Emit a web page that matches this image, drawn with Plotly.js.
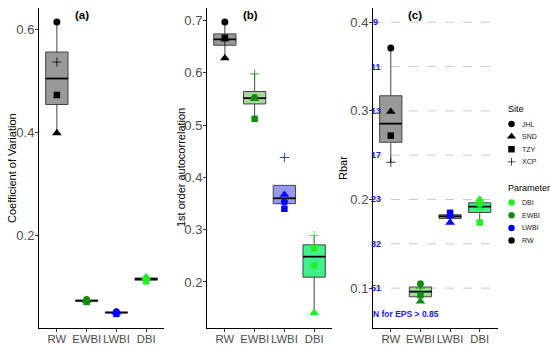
<!DOCTYPE html>
<html>
<head>
<meta charset="utf-8">
<script src="https://cdn.plot.ly/plotly-3.0.1.min.js"></script>
<style>html,body{margin:0;padding:0;background:#fff;}#chart{width:550px;height:346px;}</style>
</head>
<body>
<div id="chart"></div>
<script>
// ---------- data ----------
const categories = ["RW", "EWBI", "LWBI", "DBI"];
const sites = ["JHL", "SND", "TZY", "XCP"];
const siteSymbols = ["circle", "triangle-up", "square", "cross-thin-open"];
const paramColors = ["#000000", "#148c14", "#0000ff", "#22ee22"];
const boxFills = ["#999999", "#a8d898", "#9898f0", "#40f08a"];
const legendParams = ["DBI", "EWBI", "LWBI", "RW"];
const legendParamColors = ["#22ee22", "#148c14", "#0000ff", "#000000"];

// (a) Coefficient of Variation, per site, in category order
const cvJHL = [0.614, 0.075, 0.051, 0.116];
const cvSND = [0.398, 0.072, 0.050, 0.118];
const cvTZY = [0.472, 0.070, 0.047, 0.110];
const cvXCP = [0.536, 0.073, 0.049, 0.113];
// (b) 1st order autocorrelation
const acJHL = [0.697, 0.553, 0.353, 0.232];
const acSND = [0.628, 0.550, 0.367, 0.141];
const acTZY = [0.667, 0.512, 0.340, 0.265];
const acXCP = [0.661, 0.598, 0.438, 0.289];
// (c) Rbar
const rbJHL = [0.371, 0.105, 0.182, 0.195];
const rbSND = [0.299, 0.085, 0.174, 0.200];
const rbTZY = [0.272, 0.092, 0.185, 0.174];
const rbXCP = [0.242, 0.100, 0.180, 0.189];
// EPS reference lines in (c)
const epsN = ["9", "11", "13", "17", "23", "32", "51"];
const epsRbar = [0.40, 0.35, 0.30, 0.25, 0.20, 0.15, 0.10];

const panels = [
  {series: [cvJHL, cvSND, cvTZY, cvXCP], xa: "x", ya: "y"},
  {series: [acJHL, acSND, acTZY, acXCP], xa: "x2", ya: "y2"},
  {series: [rbJHL, rbSND, rbTZY, rbXCP], xa: "x3", ya: "y3"}
];

// ---------- helpers ----------
function q7(sorted, p) {
  const h = (sorted.length - 1) * p, lo = Math.floor(h), hi = Math.ceil(h);
  return sorted[lo] + (h - lo) * (sorted[hi] - sorted[lo]);
}
function boxStats(vals) {
  const s = vals.slice().sort((a, b) => a - b);
  const q1 = q7(s, 0.25), med = q7(s, 0.5), q3 = q7(s, 0.75), iqr = q3 - q1;
  const inside = s.filter(v => v >= q1 - 1.5 * iqr && v <= q3 + 1.5 * iqr);
  return {q1, med, q3, lo: Math.min(inside[0], q1), hi: Math.max(inside[inside.length - 1], q3)};
}

const FONT = "Liberation Sans, Arial, sans-serif";
const BW = 0.75;
const traces = [];

panels.forEach(p => {
  categories.forEach((c, j) => {
    const vals = p.series.map(s => s[j]);
    const st = boxStats(vals);
    traces.push({
      type: "box", xaxis: p.xa, yaxis: p.ya, x: [j + 1],
      q1: [st.q1], median: [st.med], q3: [st.q3], lowerfence: [st.lo], upperfence: [st.hi],
      width: BW, fillcolor: boxFills[j], line: {color: "#444444", width: 1},
      whiskerwidth: 0, boxpoints: false, showlegend: false, hoverinfo: "skip"
    });
    traces.push({
      type: "scatter", mode: "lines", xaxis: p.xa, yaxis: p.ya,
      x: [j + 1 - BW / 2, j + 1 + BW / 2], y: [st.med, st.med],
      line: {color: "#000000", width: 1.7}, showlegend: false, hoverinfo: "skip"
    });
  });
  p.series.forEach((s, k) => {
    const isCross = siteSymbols[k].indexOf("cross") === 0;
    traces.push({
      type: "scatter", mode: "markers", xaxis: p.xa, yaxis: p.ya,
      x: categories.map((c, j) => j + 1), y: s, name: sites[k],
      marker: {
        symbol: siteSymbols[k], color: paramColors,
        size: isCross ? 6.6 : (k === 1 ? 8.5 : (k === 2 ? 6.5 : 7)),
        line: isCross ? {color: paramColors, width: 0.8} : {width: 0}
      },
      showlegend: false, hoverinfo: "skip", cliponaxis: false
    });
  });
});

// custom legend (pixel coordinates on an overlay axis)
const legSiteY = sites.map((s, i) => 124 + i * 12.6);
const legParamY = legendParams.map((s, i) => 202.5 + i * 12.7);
sites.forEach((s, k) => {
  const isCross = siteSymbols[k].indexOf("cross") === 0;
  traces.push({
    type: "scatter", mode: "markers", xaxis: "x4", yaxis: "y4",
    x: [511.5], y: [legSiteY[k]],
    marker: {symbol: siteSymbols[k], color: "#000000", size: isCross ? 5.5 : (k === 1 ? 8 : 6.5),
             line: isCross ? {color: "#000000", width: 0.7} : {width: 0}},
    showlegend: false, hoverinfo: "skip", cliponaxis: false
  });
});
traces.push({
  type: "scatter", mode: "markers", xaxis: "x4", yaxis: "y4",
  x: legendParams.map(() => 511.5), y: legParamY,
  marker: {symbol: "circle", color: legendParamColors, size: 6.5},
  showlegend: false, hoverinfo: "skip", cliponaxis: false
});

const annotations = [];
function pxAnn(text, x, y, opts) {
  annotations.push(Object.assign({xref: "x4", yref: "y4", x: x, y: y, text: text, showarrow: false,
    font: {family: FONT, size: 11, color: "#000000"}}, opts || {}));
}
pxAnn("Coefficient of Variation", 12, 168, {textangle: -90});
pxAnn("1st order autocorrelation", 181, 168, {textangle: -90});
pxAnn("Rbar", 343, 168, {textangle: -90});
pxAnn("(a)", 81.7, 15, {font: {family: FONT, size: 11.5, color: "#000", weight: "bold"}});
pxAnn("(b)", 250.5, 15, {font: {family: FONT, size: 11.5, color: "#000", weight: "bold"}});
pxAnn("(c)", 415.3, 15, {font: {family: FONT, size: 11.5, color: "#000", weight: "bold"}});
pxAnn("Site", 505.5, 109, {xanchor: "left", font: {family: FONT, size: 9, color: "#000"}});
pxAnn("Parameter", 505.5, 188, {xanchor: "left", font: {family: FONT, size: 9, color: "#000"}});
sites.forEach((s, i) => pxAnn(s, 520, legSiteY[i], {xanchor: "left", font: {family: FONT, size: 7, color: "#222"}}));
legendParams.forEach((s, i) => pxAnn(s, 520, legParamY[i], {xanchor: "left", font: {family: FONT, size: 7, color: "#222"}}));

// EPS labels
epsN.forEach((n, i) => annotations.push({xref: "x3", yref: "y3", x: 0.5, y: epsRbar[i], text: "<b>" + n + "</b>", showarrow: false,
  font: {family: FONT, size: 9, color: "#1a1ad8"}}));
annotations.push({xref: "x3", yref: "y3", x: 1.5, y: 0.0705, text: "<b>N for EPS > 0.85</b>", showarrow: false,
  font: {family: FONT, size: 8.5, color: "#1a1ad8"}});

const shapes = epsRbar.map(v => ({type: "line", xref: "x3 domain", yref: "y3", x0: 0, x1: 1, y0: v, y1: v,
  line: {color: "#c4c4c4", width: 0.9, dash: "dash"}, layer: "below"}));

const W = 550, H = 346;
const yDom = [1 - 328 / H, 1 - 8 / H];
function xAxis(d0, d1, anchor) {
  return {domain: [d0 / W, d1 / W], anchor: anchor, range: [0.4, 4.6], tickvals: [1, 2, 3, 4], ticktext: categories,
    tickangle: 0, ticklabelstandoff: -3,
    showline: true, linecolor: "#000", linewidth: 1, ticks: "outside", ticklen: 3, tickcolor: "#333", tickwidth: 1,
    showgrid: false, zeroline: false, fixedrange: true, tickfont: {family: FONT, size: 11.3, color: "#4d4d4d"}};
}
function yAxis(range, tv, anchor) {
  return {domain: yDom, anchor: anchor, range: range, tickvals: tv, tickformat: ".1f", ticklabelstandoff: -2,
    showline: true, linecolor: "#000", linewidth: 1, ticks: "outside", ticklen: 3, tickcolor: "#333", tickwidth: 1,
    showgrid: false, zeroline: false, fixedrange: true, tickfont: {family: FONT, size: 13, color: "#4d4d4d"}};
}

const layout = {
  width: W, height: H, margin: {l: 0, r: 0, t: 0, b: 0}, paper_bgcolor: "#fff", plot_bgcolor: "rgba(0,0,0,0)",
  showlegend: false, boxmode: "overlay", font: {family: FONT},
  xaxis: xAxis(39, 164, "y"), yaxis: yAxis([0.0194, 0.641], [0.2, 0.4, 0.6], "x"),
  xaxis2: xAxis(207, 332, "y2"), yaxis2: yAxis([0.112, 0.724], [0.2, 0.3, 0.4, 0.5, 0.6, 0.7], "x2"),
  xaxis3: xAxis(373, 497.5, "y3"), yaxis3: yAxis([0.055, 0.416], [0.1, 0.2, 0.3, 0.4], "x3"),
  xaxis4: {domain: [0, 1], range: [0, W], visible: false, fixedrange: true, anchor: "y4"},
  yaxis4: {domain: [0, 1], range: [H, 0], visible: false, fixedrange: true, anchor: "x4"},
  annotations: annotations, shapes: shapes
};

Plotly.newPlot("chart", traces, layout, {staticPlot: true, displayModeBar: false});
</script>
</body>
</html>
